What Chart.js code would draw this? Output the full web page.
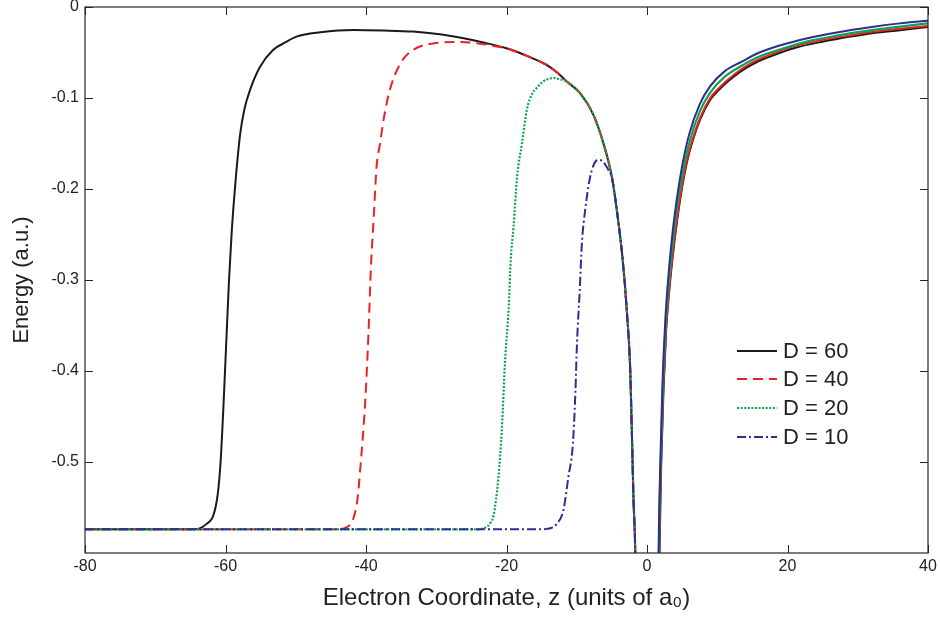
<!DOCTYPE html>
<html><head><meta charset="utf-8">
<script src="https://cdn.jsdelivr.net/npm/chart.js@4.4.1/dist/chart.umd.min.js"></script>
<style>html,body{margin:0;padding:0;background:#fff}#wrap{width:940px;height:621px;position:relative}</style>
</head><body><div id="wrap"><canvas id="c"></canvas></div>
<script>
// ---- data (z in units of a0, energy in a.u.) ----
const seriesLabels = ['D = 60', 'D = 40', 'D = 20', 'D = 10'];
const xTicks = [-80, -60, -40, -20, 0, 20, 40];
const yTicks = [-0.5, -0.4, -0.3, -0.2, -0.1, 0];

// left branch (rise from the flat level) for each D
const riseD60 = [[-80,-0.574],[-66,-0.574],[-64,-0.5735],[-62.7,-0.568],[-61.7,-0.558],[-61.1,-0.535],[-60.7,-0.5],[-60.3,-0.44],[-59.9,-0.37],[-59.5,-0.30],[-59.1,-0.245],[-58.6,-0.194],[-57.9,-0.139],[-57.3,-0.112],[-56.5,-0.091],[-55.1,-0.066],[-53.2,-0.047],[-51.5,-0.039],[-49.9,-0.0326],[-46.5,-0.0278],[-41.8,-0.0252],[-37.5,-0.0258],[-33.3,-0.027],[-29.5,-0.030],[-26.1,-0.0344],[-23,-0.0395],[-20,-0.0453]];
const riseD40 = [[-80,-0.574],[-44,-0.574],[-43,-0.5725],[-42.3,-0.569],[-41.8,-0.562],[-41.2,-0.54],[-40.8,-0.506],[-40.1,-0.432],[-39.65,-0.359],[-39.3,-0.286],[-38.9,-0.231],[-38.5,-0.176],[-38.0,-0.150],[-37.5,-0.124],[-36.6,-0.091],[-35.1,-0.062],[-33.25,-0.047],[-30.4,-0.040],[-27,-0.0385],[-24,-0.040],[-21.4,-0.0435],[-20,-0.0455]];
const riseD20 = [[-80,-0.574],[-24,-0.574],[-23,-0.572],[-22.3,-0.567],[-21.85,-0.559],[-21.15,-0.517],[-20.65,-0.462],[-20.2,-0.388],[-19.7,-0.333],[-19.4,-0.278],[-19.0,-0.242],[-18.5,-0.187],[-17.8,-0.150],[-17.1,-0.113],[-16.4,-0.096],[-15.7,-0.089],[-14.8,-0.082],[-13.8,-0.0785],[-13.3,-0.078],[-12.4,-0.0795],[-11.4,-0.082]];
const riseD10 = [[-80,-0.574],[-15,-0.574],[-14.3,-0.5735],[-13.5,-0.572],[-12.85,-0.568],[-11.9,-0.553],[-11.2,-0.517],[-10.55,-0.480],[-10.2,-0.425],[-9.97,-0.370],[-9.6,-0.315],[-9.27,-0.260],[-8.8,-0.223],[-8.1,-0.187],[-7.5,-0.172],[-7.0,-0.168],[-6.4,-0.169],[-5.8,-0.175],[-5.3,-0.182],[-5.0,-0.187]];

// common curve approaching the nucleus from the left (z < 0)
const sharedLeft = [[-17,-0.054],[-14.3,-0.0637],[-12.8,-0.072],[-11.4,-0.082],[-9.5,-0.095],[-7.6,-0.119],[-6.2,-0.150],[-5.0,-0.187],[-4.3,-0.223],[-3.46,-0.278],[-2.86,-0.335],[-2.4,-0.396],[-2.15,-0.469],[-1.92,-0.542],[-1.68,-0.597],[-1.6,-0.65]];

// right branch (z > 0) for each D
const rightD60 = [[1.7,-0.65],[1.78,-0.60],[2.03,-0.50],[2.33,-0.425],[2.73,-0.355],[3.13,-0.315],[3.65,-0.275],[4.3,-0.234],[5.0,-0.198],[5.7,-0.170],[6.5,-0.147],[7.6,-0.123],[9.0,-0.102],[10.0,-0.093],[11.5,-0.082],[13.3,-0.071],[15.5,-0.061],[18.0,-0.053],[21.0,-0.045],[25.1,-0.038],[29,-0.0325],[32.3,-0.0285],[36,-0.0255],[40,-0.022]];
const rightD40 = [[1.7,-0.65],[1.75,-0.60],[2.0,-0.50],[2.3,-0.425],[2.7,-0.355],[3.1,-0.315],[3.6,-0.275],[4.25,-0.234],[5.0,-0.196],[5.7,-0.168],[6.5,-0.145],[7.6,-0.121],[9.0,-0.100],[10.0,-0.091],[11.5,-0.080],[13.3,-0.069],[15.5,-0.059],[18.0,-0.051],[21.0,-0.043],[25.1,-0.036],[29,-0.031],[32.3,-0.027],[36,-0.024],[40,-0.0208]];
const rightD20 = [[1.65,-0.65],[1.7,-0.60],[1.95,-0.50],[2.25,-0.42],[2.65,-0.35],[3.05,-0.308],[3.55,-0.267],[4.1,-0.229],[5.0,-0.186],[6.0,-0.150],[7.5,-0.115],[9.0,-0.094],[11.0,-0.077],[13.5,-0.0645],[16.0,-0.0545],[19.0,-0.0465],[23.0,-0.0375],[27.0,-0.0315],[32.0,-0.0255],[36.0,-0.0215],[40.0,-0.018]];
const rightD10 = [[1.6,-0.65],[1.65,-0.60],[1.9,-0.50],[2.2,-0.415],[2.6,-0.345],[3.0,-0.30],[3.5,-0.258],[4.0,-0.225],[5.0,-0.175],[6.0,-0.140],[7.5,-0.107],[9.0,-0.087],[11.0,-0.071],[13.5,-0.060],[16.0,-0.050],[19.0,-0.042],[23.0,-0.034],[27.0,-0.028],[32.0,-0.022],[36.0,-0.018],[40.0,-0.015]];

// ---- styles ----
const colors = ['#1a1a1a', '#ee1f26', '#0ca54e', '#2b2f8f'];
const dashes = [[], [10, 6], [2, 1.6], [9, 3, 2, 3]];
const widths = [2, 2, 2.2, 2];

function build(rise, right) {
  const lastZ = rise[rise.length - 1][0];
  const pts = rise.concat(sharedLeft.filter(p => p[0] > lastZ));
  const out = pts.map(p => ({x: p[0], y: p[1]}));
  out.push({x: 0, y: null});
  right.forEach(p => out.push({x: p[0], y: p[1]}));
  return out;
}
const allData = [build(riseD60, rightD60), build(riseD40, rightD40), build(riseD20, rightD20), build(riseD10, rightD10)];

const datasets = allData.map((d, i) => ({
  label: seriesLabels[i], data: d, borderColor: colors[i], borderWidth: widths[i],
  borderDash: dashes[i], pointRadius: 0, fill: false, spanGaps: false,
  cubicInterpolationMode: 'monotone', order: 4 - i,
  segment: { borderDash: c => (c.p0.parsed.x > 0 ? [] : undefined) }
}));

const FONT = '"Liberation Sans", Arial, Helvetica, sans-serif';
const AXC = '#262626';

const framePlugin = {
  id: 'frame',
  afterDatasetsDraw(chart) {
    const ctx = chart.ctx, a = chart.chartArea, xs = chart.scales.x, ys = chart.scales.y;
    ctx.save();
    ctx.strokeStyle = AXC; ctx.lineWidth = 1.2; ctx.setLineDash([]);
    ctx.strokeRect(a.left, a.top, a.right - a.left, a.bottom - a.top);
    const tl = 8;
    ctx.lineWidth = 1;
    ctx.beginPath();
    xTicks.forEach(v => { const px = Math.round(xs.getPixelForValue(v)) + 0.5;
      ctx.moveTo(px, a.bottom); ctx.lineTo(px, a.bottom - tl);
      ctx.moveTo(px, a.top); ctx.lineTo(px, a.top + tl); });
    yTicks.forEach(v => { const py = Math.round(ys.getPixelForValue(v)) + 0.5;
      ctx.moveTo(a.left, py); ctx.lineTo(a.left + tl, py);
      ctx.moveTo(a.right, py); ctx.lineTo(a.right - tl, py); });
    ctx.stroke();
    // legend inside plot
    const lx0 = 737, lx1 = 777, tx = 783, rows = [351, 379, 408, 437];
    ctx.font = '22px ' + FONT; ctx.textBaseline = 'middle'; ctx.textAlign = 'left';
    rows.forEach((y, i) => {
      ctx.strokeStyle = colors[i]; ctx.lineWidth = widths[i]; ctx.setLineDash(dashes[i]);
      ctx.beginPath(); ctx.moveTo(lx0, y); ctx.lineTo(lx1, y); ctx.stroke();
      ctx.fillStyle = '#222'; ctx.fillText(seriesLabels[i], tx, y + 1);
    });
    ctx.restore();
  }
};

new Chart(document.getElementById('c'), {
  type: 'line',
  data: { datasets },
  options: {
    responsive: true, maintainAspectRatio: false, animation: false,
    layout: { padding: { top: 7, right: 12, left: 0, bottom: 0 } },
    plugins: { legend: { display: false }, tooltip: { enabled: false } },
    scales: {
      x: {
        type: 'linear', min: -80, max: 40,
        grid: { display: false, drawTicks: false }, border: { display: false },
        afterBuildTicks: s => { s.ticks = xTicks.map(v => ({value: v})); },
        afterFit: s => { s.height = 68; s.paddingLeft = 0; s.paddingRight = 0; },
        ticks: { color: '#222', font: { family: FONT, size: 16 }, padding: 4, maxRotation: 0,
          callback: v => String(v) },
        title: { display: true, text: 'Electron Coordinate, z (units of a\u2080)', color: '#222',
          font: { family: FONT, size: 24 }, padding: { top: 0, bottom: 8 } }
      },
      y: {
        type: 'linear', min: -0.6, max: 0,
        grid: { display: false, drawTicks: false }, border: { display: false },
        afterBuildTicks: s => { s.ticks = yTicks.map(v => ({value: v})); },
        afterFit: s => { s.width = 85; s.paddingTop = 0; s.paddingBottom = 0; },
        ticks: { color: '#222', font: { family: FONT, size: 16 }, padding: 6,
          callback: v => (Math.abs(v) < 1e-9 ? '0' : v.toFixed(1)) },
        title: { display: true, text: 'Energy (a.u.)', color: '#222',
          font: { family: FONT, size: 22 }, padding: { top: 9, bottom: 0 } }
      }
    }
  },
  plugins: [framePlugin]
});
</script></body></html>
